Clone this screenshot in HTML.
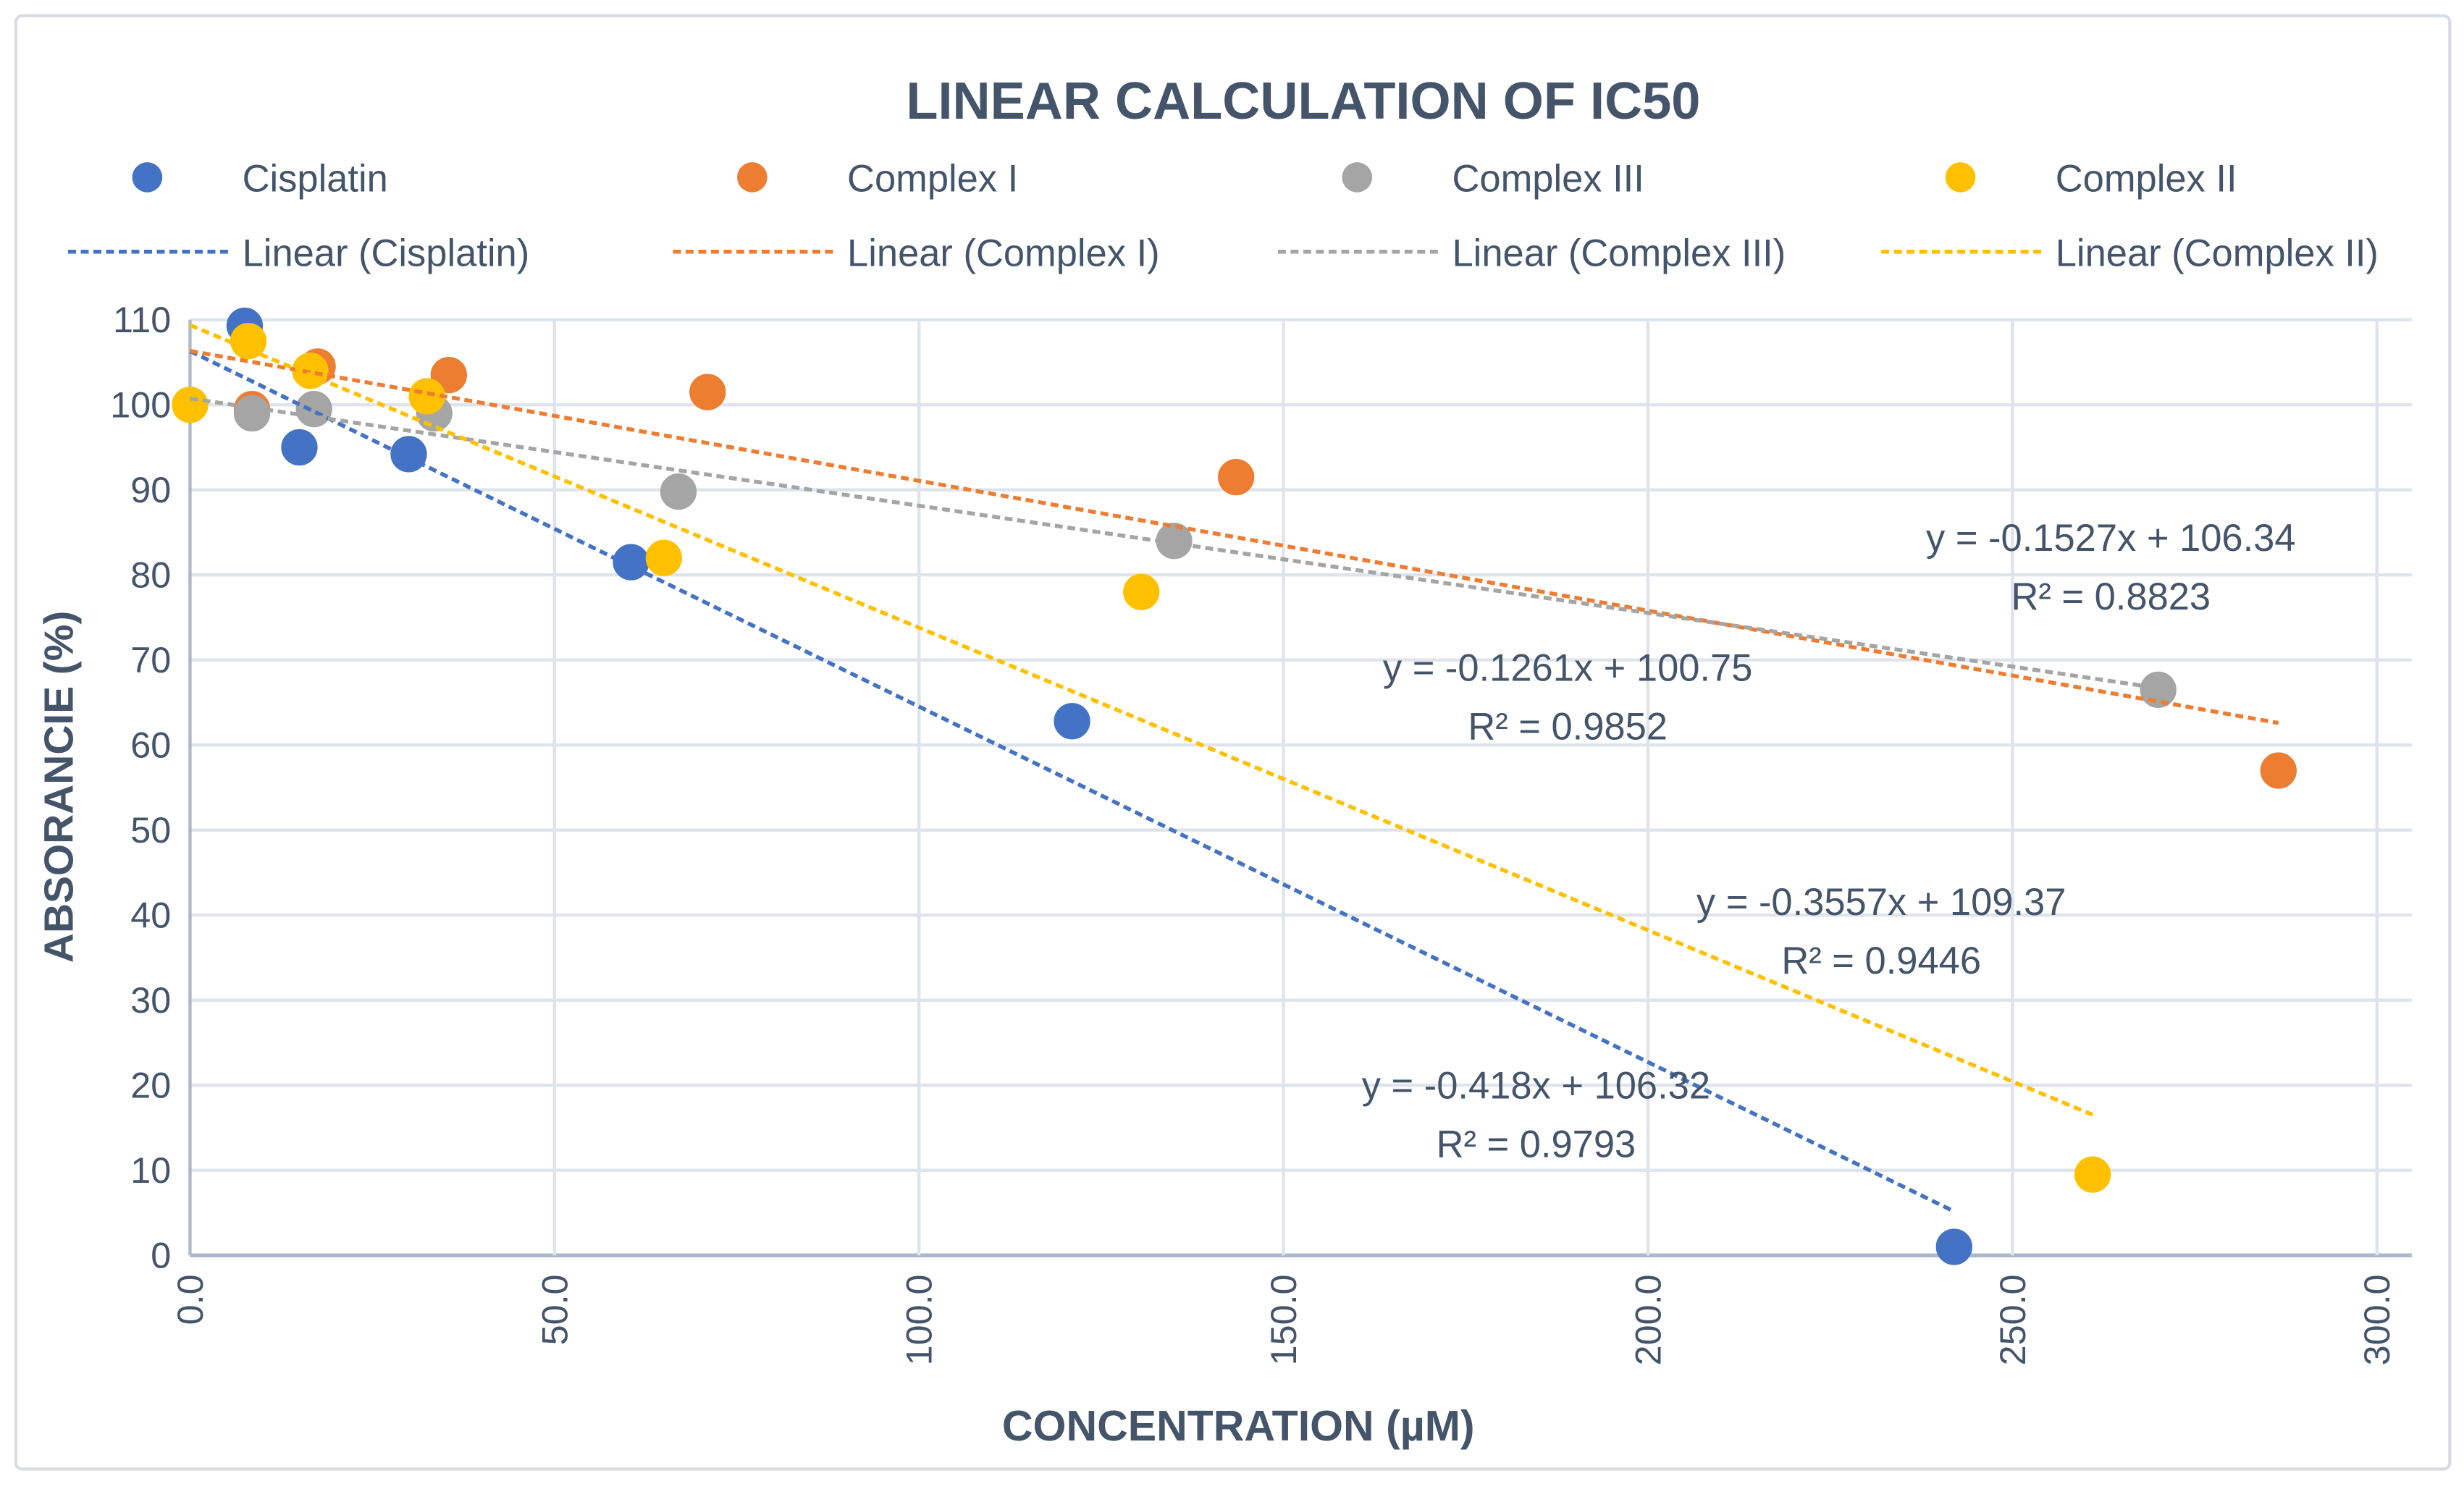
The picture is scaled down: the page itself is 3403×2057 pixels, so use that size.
<!DOCTYPE html>
<html><head><meta charset="utf-8"><style>
html,body{margin:0;padding:0;background:#fff}
svg{display:block}
text{font-family:"Liberation Sans",sans-serif;fill:#44546a}
</style></head><body>
<svg id="chart" width="3403" height="2057" viewBox="0 0 1556 940.6" preserveAspectRatio="none" xmlns="http://www.w3.org/2000/svg">
<rect x="10" y="10" width="1537" height="918" rx="4" fill="#fff" stroke="#d9dde3" stroke-width="2"/>
<text x="823" y="75" text-anchor="middle" font-size="33" font-weight="bold">LINEAR CALCULATION OF IC50</text>
<g id="grid"></g>
<g id="series"></g>
<g id="legend"></g>
<text transform="translate(46,497) rotate(-90)" text-anchor="middle" font-size="26" font-weight="bold">ABSORANCIE (%)</text>
<text x="782" y="910" text-anchor="middle" font-size="27" font-weight="bold">CONCENTRATION (µM)</text>
</svg>
<script>
const xTicks=[0,50,100,150,200,250,300];
const yTicks=[0,10,20,30,40,50,60,70,80,90,100,110];
const seriesNames=["Cisplatin","Complex I","Complex III","Complex II"];
const cisX=[7.5,15,30,60.5,121,242];
const cisY=[109.3,95,94.2,81.5,62.8,1];
const c1X=[8.5,17.5,35.5,71,143.5,286.5];
const c1Y=[99.5,104.5,103.5,101.5,91.5,57];
const c3X=[8.5,17,33.5,67,135,270];
const c3Y=[99,99.5,99,89.8,84,66.5];
const c2X=[0,8,16.5,32.5,65,130.5,261];
const c2Y=[100,107.5,104,101,82,78,9.5];
const slopes=[-0.418,-0.1527,-0.1261,-0.3557];
const intercepts=[106.32,106.34,100.75,109.37];
const r2=["0.9793","0.8823","0.9852","0.9446"];

const NS="http://www.w3.org/2000/svg";
const X0=120,X1=1501,Y0=793,Y1=202;
const sx=v=>X0+(X1-X0)*v/300;
const sy=v=>Y0-(Y0-Y1)*v/110;
function mk(tag,attrs,parent){const e=document.createElementNS(NS,tag);for(const k in attrs)e.setAttribute(k,attrs[k]);parent.appendChild(e);return e;}
const grid=document.getElementById('grid');
yTicks.forEach(t=>{
  const l=mk('line',{x1:X0,x2:1523,y1:sy(t),y2:sy(t),stroke:t===0?'#adb9ca':'#dfe3eb','stroke-width':t===0?2.5:2},grid);
  
  
  const tx=mk('text',{x:108,y:sy(t)+8,'text-anchor':'end','font-size':23},grid);
  tx.textContent=t;
  
  
});
xTicks.forEach(t=>{
  const l=mk('line',{x1:sx(t),x2:sx(t),y1:Y1,y2:Y0,stroke:t===0?'#adb9ca':'#dfe3eb','stroke-width':2},grid);
  
  
  const tx=mk('text',{transform:`translate(${sx(t)+8},805) rotate(-90)`,'text-anchor':'end','font-size':23},grid);
  tx.textContent=t.toFixed(1);
  
  
});
const colors=["#4472c4","#ed7d31","#a5a5a5","#ffc000"];
const data=[[cisX,cisY],[c1X,c1Y],[c3X,c3Y],[c2X,c2Y]];
const sg=document.getElementById('series');
data.forEach((d,i)=>{
  d[0].forEach((x,j)=>{
    const c=mk('circle',{cx:sx(x),cy:sy(d[1][j]),r:11,fill:colors[i],stroke:colors[i],'stroke-width':1},sg);
    
    
  });
});
data.forEach((d,i)=>{
  const xmax=Math.max(...d[0]);
  const l=mk('line',{x1:sx(0),y1:sy(intercepts[i]),x2:sx(xmax),y2:sy(intercepts[i]+slopes[i]*xmax),stroke:colors[i],'stroke-width':2.5,'stroke-dasharray':'5 3'},sg);
  
  
});
const eqPos=[[970,694],[1333,348],[990,430],[1188,578]];
data.forEach((d,i)=>{
  const t1=mk('text',{x:eqPos[i][0],y:eqPos[i][1],'text-anchor':'middle','font-size':24},sg);
  t1.textContent=`y = ${slopes[i]}x + ${intercepts[i]}`;
  
  
  const t2=mk('text',{x:eqPos[i][0],y:eqPos[i][1]+37,'text-anchor':'middle','font-size':24},sg);
  t2.textContent=`R² = ${r2[i]}`;
  
  
});
const lg=document.getElementById('legend');
const legX=[93,475,857,1238];
seriesNames.forEach((n,i)=>{
  const c=mk('circle',{cx:legX[i],cy:112,r:9.5,fill:colors[i]},lg);
  
  
  const t=mk('text',{x:legX[i]+60,y:121,'font-size':24},lg);
  t.textContent=n;
  
  
  const l=mk('line',{x1:legX[i]-50,x2:legX[i]+52,y1:159,y2:159,stroke:colors[i],'stroke-width':2.5,'stroke-dasharray':'5 3'},lg);
  
  
  const t2=mk('text',{x:legX[i]+60,y:168,'font-size':24},lg);
  t2.textContent='Linear ('+n+')';
  
  
});
</script>
</body></html>
